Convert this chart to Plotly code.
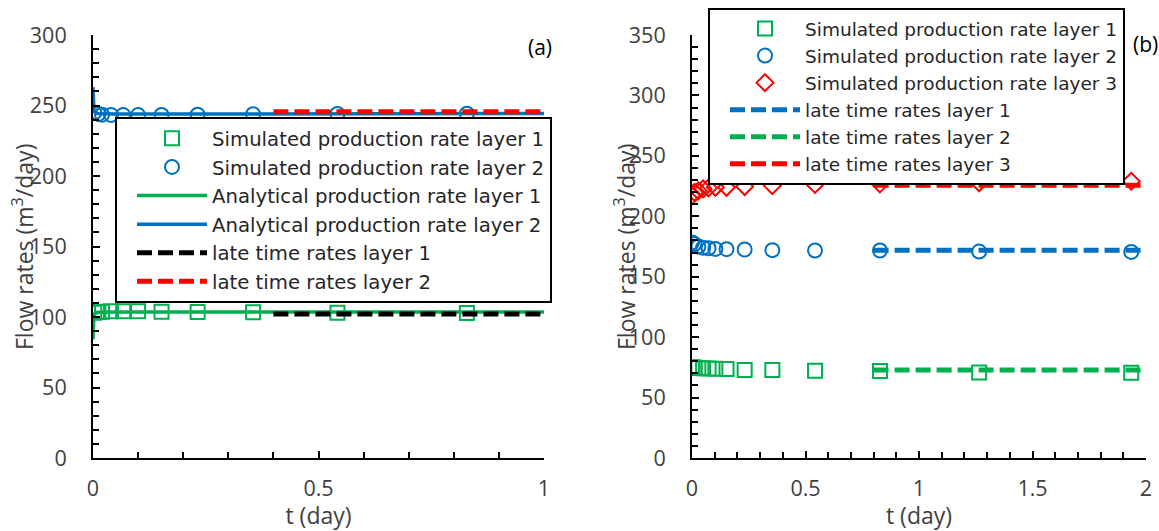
import plotly.graph_objects as go

# ---------------- Panel (a) data ----------------
t_sim_a = [0.003, 0.012, 0.02, 0.04, 0.067, 0.1, 0.152, 0.232, 0.355, 0.542, 0.829]
q_sim_a1 = [103.0, 103.5, 103.8, 104.0, 104.0, 104.0, 103.8, 103.5, 103.3, 103.0, 102.8]
q_sim_a2 = [245.0, 244.0, 243.5, 243.3, 243.2, 243.2, 243.3, 243.5, 243.8, 244.0, 244.2]

t_ana_a = [0.0, 0.0005, 0.002, 0.01, 0.05, 0.2, 0.5, 1.0]
q_ana_a1 = [84.0, 98.0, 102.0, 103.3, 103.6, 103.6, 103.5, 103.5]
q_ana_a2 = [263.0, 250.0, 246.0, 244.3, 244.0, 244.0, 244.2, 244.3]

t_late_a = [0.4, 1.0]
q_late_a1 = [102.2, 102.2]
q_late_a2 = [245.5, 245.5]

# ---------------- Panel (b) data ----------------
t_sim_b = [0.0, 0.011, 0.028, 0.049, 0.073, 0.103, 0.152, 0.232, 0.354, 0.542, 0.828, 1.265, 1.935]
q_sim_b1 = [75.0, 74.8, 74.5, 74.2, 74.0, 73.8, 73.6, 72.8, 72.8, 72.2, 72.0, 70.8, 70.6]
q_sim_b2 = [178.4, 177.0, 175.0, 174.0, 173.6, 173.0, 172.8, 172.5, 172.0, 171.7, 171.7, 170.8, 170.5]
q_sim_b3 = [217.0, 219.8, 221.0, 222.6, 223.5, 224.0, 224.0, 224.6, 225.4, 226.3, 226.8, 227.7, 229.0]

t_late_b = [0.8, 2.0]
q_late_b1 = [172.0, 172.0]
q_late_b2 = [72.8, 72.8]
q_late_b3 = [225.7, 225.7]

GREEN = "#00B050"
BLUE = "#0070C0"
RED = "#FF0000"
FONT = "Open Sans"
LEGFONT = "DejaVu Sans"
TXT = "#404040"

fig = go.Figure()

def marker_trace(x, y, name, symbol, color, size, xa, ya, leg):
    return go.Scatter(x=x, y=y, mode="markers", name=name, legend=leg,
                      xaxis=xa, yaxis=ya,
                      marker=dict(symbol=symbol, size=size, color=color,
                                  line=dict(color=color, width=2)))

def line_trace(x, y, name, color, width, dash, xa, ya, leg):
    return go.Scatter(x=x, y=y, mode="lines", name=name, legend=leg,
                      xaxis=xa, yaxis=ya,
                      line=dict(color=color, width=width, dash=dash))

DASH = "15px,6px"

# Panel (a)
fig.add_trace(marker_trace(t_sim_a, q_sim_a1, "Simulated production rate layer 1", "square-open", GREEN, 14, "x", "y", "legend"))
fig.add_trace(marker_trace(t_sim_a, q_sim_a2, "Simulated production rate layer 2", "circle-open", BLUE, 14, "x", "y", "legend"))
fig.add_trace(line_trace(t_ana_a, q_ana_a1, "Analytical production rate layer 1", GREEN, 3.5, "solid", "x", "y", "legend"))
fig.add_trace(line_trace(t_ana_a, q_ana_a2, "Analytical production rate layer 2", BLUE, 3.5, "solid", "x", "y", "legend"))
fig.add_trace(line_trace(t_late_a, q_late_a1, "late time rates layer 1", "black", 5, DASH, "x", "y", "legend"))
fig.add_trace(line_trace(t_late_a, q_late_a2, "late time rates layer 2", RED, 5, DASH, "x", "y", "legend"))

# Panel (b)
fig.add_trace(marker_trace(t_sim_b, q_sim_b1, "Simulated production rate layer 1", "square-open", GREEN, 14, "x2", "y2", "legend2"))
fig.add_trace(marker_trace(t_sim_b, q_sim_b2, "Simulated production rate layer 2", "circle-open", BLUE, 14, "x2", "y2", "legend2"))
fig.add_trace(marker_trace(t_sim_b, q_sim_b3, "Simulated production rate layer 3", "diamond-open", RED, 13, "x2", "y2", "legend2"))
fig.add_trace(line_trace(t_late_b, q_late_b1, "late time rates layer 1", BLUE, 5, DASH, "x2", "y2", "legend2"))
fig.add_trace(line_trace(t_late_b, q_late_b2, "late time rates layer 2", GREEN, 5, DASH, "x2", "y2", "legend2"))
fig.add_trace(line_trace(t_late_b, q_late_b3, "late time rates layer 3", RED, 5, DASH, "x2", "y2", "legend2"))

W, H = 1159, 531

def xaxis(dom, rng, anchor):
    return dict(domain=dom, range=rng, dtick=0.5, showgrid=False, zeroline=False, anchor=anchor,
                automargin=False,
                showline=True, linecolor="black", linewidth=2,
                ticks="inside", ticklen=7, tickwidth=1.5, tickcolor="black",
                minor=dict(dtick=0.1, ticks="inside", ticklen=6, tickwidth=1.5, tickcolor="black"),
                ticklabelstandoff=10,
                tickfont=dict(family=FONT, size=21.5, color=TXT),
                title=dict(text="t (day)", font=dict(family=FONT, size=23, color=TXT), standoff=10))

def yaxis(dom, rng, anchor):
    return dict(domain=dom, range=rng, dtick=50, showgrid=False, zeroline=False, anchor=anchor,
                automargin=False,
                showline=True, linecolor="black", linewidth=2,
                ticks="inside", ticklen=7, tickwidth=1.5, tickcolor="black",
                minor=dict(dtick=10, ticks="inside", ticklen=6, tickwidth=1.5, tickcolor="black"),
                ticklabelstandoff=20,
                tickfont=dict(family=FONT, size=21.5, color=TXT))

ydom = [(531 - 458) / H, (531 - 35) / H]

fig.update_layout(
    width=W, height=H,
    margin=dict(l=0, r=0, t=0, b=0, autoexpand=False),
    plot_bgcolor="white", paper_bgcolor="white",
    font=dict(family=FONT, color=TXT),
    xaxis=xaxis([93 / W, 544 / W], [0, 1], "y"),
    yaxis=yaxis(ydom, [0, 300], "x"),
    xaxis2=xaxis([692 / W, 1146 / W], [0, 2], "y2"),
    yaxis2=yaxis(ydom, [0, 350], "x2"),
    legend=dict(x=115 / W, y=(531 - 117) / H, xanchor="left", yanchor="top",
                bgcolor="white", bordercolor="black", borderwidth=2,
                itemwidth=70, indentation=15,
                font=dict(family=LEGFONT, size=19.7, color="#262626")),
    legend2=dict(x=708 / W, y=(531 - 8) / H, xanchor="left", yanchor="top",
                 bgcolor="white", bordercolor="black", borderwidth=2,
                 itemwidth=70, indentation=15,
                 font=dict(family=LEGFONT, size=18.5, color="#262626")),
    showlegend=True,
)

annos = [
    dict(text="(a)", x=540 / W, y=(531 - 47) / H, xref="paper", yref="paper",
         xanchor="center", yanchor="middle",
         showarrow=False, font=dict(family=FONT, size=21, color="black")),
    dict(text="(b)", x=1145 / W, y=(531 - 44) / H, xref="paper", yref="paper",
         xanchor="center", yanchor="middle",
         showarrow=False, font=dict(family=FONT, size=21, color="black")),
    dict(text="Flow rates (m<sup>3</sup>/day)", x=23 / W, y=(531 - 247) / H, xref="paper", yref="paper",
         xanchor="center", yanchor="middle",
         textangle=-90, showarrow=False, font=dict(family=FONT, size=23, color=TXT)),
    dict(text="Flow rates (m<sup>3</sup>/day)", x=625 / W, y=(531 - 247) / H, xref="paper", yref="paper",
         xanchor="center", yanchor="middle",
         textangle=-90, showarrow=False, font=dict(family=FONT, size=23, color=TXT)),
]
fig.update_layout(annotations=annos)

fig.write_html("out.html")
